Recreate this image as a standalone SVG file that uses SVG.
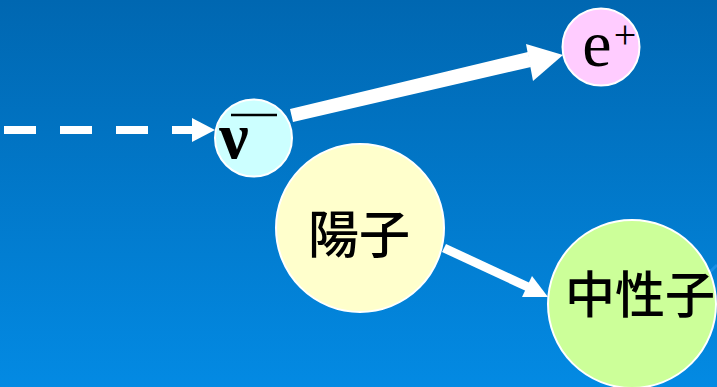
<svg xmlns="http://www.w3.org/2000/svg" width="717" height="387" viewBox="0 0 717 387">
<defs>
<linearGradient id="bg" x1="0" y1="0" x2="0" y2="1">
<stop offset="0" stop-color="#0067b1"/>
<stop offset="1" stop-color="#038ae3"/>
</linearGradient>
<style>
.node{stroke:#fff;stroke-width:2}
.cjk{font-family:"Noto Sans CJK JP","Noto Sans CJK SC",sans-serif;fill:#000;font-weight:500}
.ser{font-family:"Liberation Serif","DejaVu Serif",serif;fill:#000}
</style>
</defs>
<rect width="717" height="387" fill="url(#bg)"/>
<path d="M690,300 A120,120 0 0 1 717,265" fill="none" stroke="#2a9af0" stroke-width="3" opacity="0.6"/>
<g id="connectors" fill="#fff">
<line x1="4" y1="130" x2="195" y2="130" stroke="#fff" stroke-width="8" stroke-dasharray="32 24"/>
<polygon points="192,118 215,130 192,142"/>
<polygon points="290,109 528,52 531,67 293,122"/>
<polygon points="526,44 563,55 533,81"/>
<polygon points="446,244 530,283 526,291 442,252"/>
<polygon points="532,276 548,297 522,297"/>
</g>
<g id="nu">
<circle class="node" cx="253.5" cy="138" r="38.5" fill="#ccffff"/>
<text class="ser" x="234" y="158" font-size="66" font-weight="bold" text-anchor="middle">ν</text>
<line x1="231" y1="115" x2="277" y2="115" stroke="#000" stroke-width="2.5"/>
</g>
<g id="positron">
<circle class="node" cx="601" cy="47" r="38.5" fill="#ffccff"/>
<text class="ser" x="597" y="66" font-size="66" text-anchor="middle">e</text>
<text class="ser" x="625" y="48" font-size="40" text-anchor="middle">+</text>
</g>
<g id="proton">
<circle class="node" cx="360" cy="228" r="84" fill="#ffffcc"/>
<text class="cjk" x="359" y="253" font-size="51" text-anchor="middle">陽子</text>
</g>
<g id="neutron">
<circle class="node" cx="632" cy="304" r="84" fill="#ccff99"/>
<text class="cjk" x="640" y="313" font-size="50" text-anchor="middle">中性子</text>
</g>
</svg>
